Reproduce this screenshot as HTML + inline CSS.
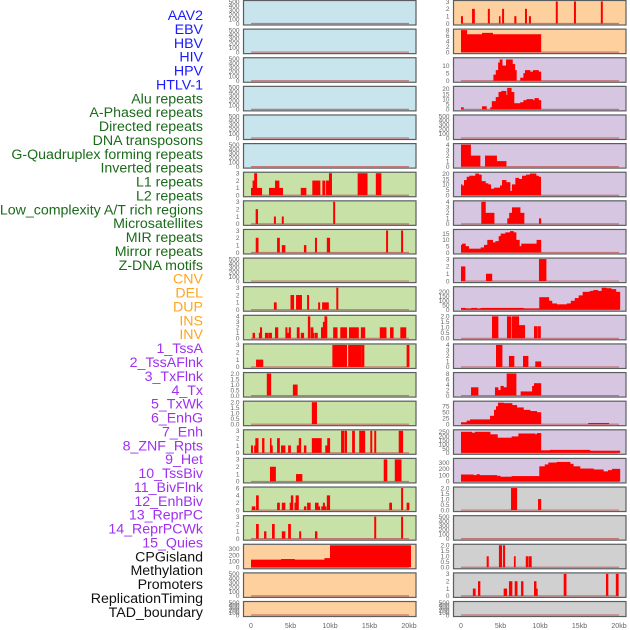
<!DOCTYPE html>
<html><head><meta charset="utf-8"><style>
html,body{margin:0;padding:0;background:#fff;}
svg{display:block;font-family:"Liberation Sans",sans-serif;}
</style></head><body>
<svg id="chart" width="630" height="630" viewBox="0 0 630 630"></svg>
<script>
// ---- labels ----
const labels = ["AAV2","EBV","HBV","HIV","HPV","HTLV-1","Alu repeats","A-Phased repeats","Directed repeats","DNA transposons","G-Quadruplex forming repeats","Inverted repeats","L1 repeats","L2 repeats","Low_complexity A/T rich regions","Microsatellites","MIR repeats","Mirror repeats","Z-DNA motifs","CNV","DEL","DUP","INS","INV","1_TssA","2_TssAFlnk","3_TxFlnk","4_Tx","5_TxWk","6_EnhG","7_Enh","8_ZNF_Rpts","9_Het","10_TssBiv","11_BivFlnk","12_EnhBiv","13_ReprPC","14_ReprPCWk","15_Quies","CPGisland","Methylation","Promoters","ReplicationTiming","TAD_boundary"];
const labelColors = ["#1a1aff","#1a1aff","#1a1aff","#1a1aff","#1a1aff","#1a1aff","#1a6b1a","#1a6b1a","#1a6b1a","#1a6b1a","#1a6b1a","#1a6b1a","#1a6b1a","#1a6b1a","#1a6b1a","#1a6b1a","#1a6b1a","#1a6b1a","#1a6b1a","#ffa520","#ffa520","#ffa520","#ffa520","#ffa520","#a030f0","#a030f0","#a030f0","#a030f0","#a030f0","#a030f0","#a030f0","#a030f0","#a030f0","#a030f0","#a030f0","#a030f0","#a030f0","#a030f0","#a030f0","#111","#111","#111","#111","#111"];
const xTicks = [0,5,10,15,20];
const xTickLabels = ["0","5kb","10kb","15kb","20kb"];
// ---- series: [startKb, endKb, value] ----
const segEmpty = [];
const segAlu = [[0,0.2,1],[0.2,0.4,2],[0.4,0.72,3],[0.72,1.35,1],[2.28,3.04,1],[3.04,3.54,2],[3.54,4.0,1],[6.3,6.96,1],[7.76,8.73,2],[9.03,9.36,2],[9.5,9.87,2],[9.87,10.2,3],[13.5,14.7,3],[15.8,16.45,3]];
const segAPhased = [[0.59,0.84,2],[2.9,3.1,1],[3.9,4.1,1],[10.4,10.6,3]];
const segDirected = [[0.6,0.9,2],[3.3,3.6,2],[3.9,4.3,1],[6.7,6.96,1],[8.1,8.3,2],[9.6,9.96,2],[17.1,17.3,3],[19.0,19.2,3]];
const segGQuad = [[2.9,3.2,1],[5.0,5.4,2],[5.7,6.4,2],[7.1,7.3,2],[8.5,8.7,1],[9.0,9.8,1],[10.8,11.0,3]];
const segInverted = [[0.2,0.46,1],[1.0,1.14,1],[1.14,1.35,2],[1.77,2.2,1],[2.28,2.6,1],[3.04,3.4,2],[4.35,4.56,2],[4.56,4.77,1],[4.77,5.0,2],[5.8,6.1,2],[6.3,6.67,1],[7.2,7.45,4],[7.55,7.85,2],[7.85,8.0,1],[8.1,8.4,1],[8.86,9.1,2],[9.1,9.3,3],[9.3,9.6,4],[10.4,10.9,2],[11.3,12.1,2],[12.4,13.0,2],[13.0,13.6,2],[13.9,14.4,2],[16.3,17.1,2],[17.6,18.0,2],[18.9,19.6,2]];
const segL1 = [[0.64,1.16,1],[1.2,1.5,1],[10.3,12.1,3],[12.3,13.9,3],[13.95,14.3,3],[19.7,20.0,3]];
const segL2 = [[2.0,2.5,2],[5.3,5.85,1]];
const segLowComplexity = [[7.7,8.3,2]];
const segMicro = [[0,0.2,1],[0.4,0.55,1],[0.55,0.9,2],[1.4,1.65,2],[2.4,2.55,2],[2.55,2.7,1],[3.3,3.6,2],[3.8,4.3,1],[4.7,5.0,1],[5.8,6.05,1],[6.05,6.3,2],[6.7,6.96,1],[7.7,8.9,2],[9.4,9.65,1],[9.65,9.96,2],[11.4,11.8,3],[11.9,12.1,3],[12.8,13.1,3],[13.7,14.4,3],[15.1,15.3,3],[15.6,15.8,3],[18.7,19.2,3]];
const segMIR = [[2.4,3.1,2],[5.7,6.45,1],[16.8,17.2,3],[18.2,19.0,3]];
const segMirror = [[0.1,0.5,1],[0.64,0.93,4],[3.3,3.6,2],[3.9,4.3,2],[4.9,5.05,2],[5.05,5.3,4],[5.5,5.65,2],[5.65,6.0,4],[6.7,6.96,1],[7.1,7.5,2],[8.1,8.5,2],[8.5,8.7,1],[8.9,9.1,1],[9.1,9.3,2],[9.3,9.5,1],[9.6,9.96,4],[17.5,17.8,2],[19.0,19.2,6],[19.7,20.0,2]];
const segZDNA = [[0.64,0.93,2],[1.65,1.9,1],[2.66,2.95,2],[3.9,4.3,1],[4.7,5.0,2],[6.1,6.3,1],[8.1,8.35,1],[15.6,15.8,3],[19.0,19.2,3]];
const segCNV = [[0,3.8,125],[3.8,5.5,135],[5.5,9.3,125],[9.3,10,150],[10,20.2,360]];
const segINS = [[0,0.2,1],[1.4,1.7,2],[3.4,3.6,2],[4.8,4.95,1],[5.2,5.4,2],[6.75,6.96,1],[8.1,8.3,2],[8.6,8.8,1],[12.0,12.2,3],[14.3,14.5,3],[17.7,17.9,3]];
const segINV = [[0,0.72,8],[0.72,2.66,6.5],[2.66,4.0,7],[4.0,10.1,6.5]];
const segTssA = [[4.1,4.4,4],[4.4,4.7,7],[4.7,4.9,12],[4.9,5.2,14],[5.2,5.7,10],[5.7,6.5,14],[6.5,6.8,11],[6.8,7.0,7],[7.5,7.9,2],[7.9,8.1,5],[8.1,8.73,7],[8.73,9.1,6],[9.1,9.8,7],[9.8,10.1,6]];
const segTssAFlnk = [[0,0.3,2],[2.66,3.2,3],[3.7,3.9,2],[3.9,4.4,8],[4.4,4.75,12],[4.75,5.1,17],[5.1,5.7,18],[5.7,5.85,14],[5.85,6.35,21],[6.35,6.7,17],[6.7,7.5,6],[7.5,7.9,7],[7.9,8.3,9],[8.3,9.1,10],[9.1,9.3,9],[9.3,9.8,11],[9.8,10.1,9]];
const segTx = [[0,1.2,4],[1.2,2.4,2],[3.04,4.5,2],[4.5,5.7,1]];
const segTxWk = [[0,0.13,10],[0.13,0.38,9],[0.38,0.72,14],[0.72,1.05,17],[1.05,1.81,18],[1.81,2.24,20],[2.24,2.57,19],[2.57,3.08,13],[3.08,3.42,11],[3.42,3.75,10],[3.75,4.18,6],[4.18,4.94,7],[4.94,5.19,9],[5.19,5.7,14],[5.7,6.2,12],[6.2,6.45,4],[6.45,6.88,10],[6.88,7.3,16],[7.3,7.72,15],[7.72,8.23,18],[8.23,8.73,19],[8.73,9.49,20],[9.49,9.83,18],[9.83,10.08,17]];
const segEnhG = [[2.57,3.08,4],[3.08,4.18,2],[5.86,6.1,1],[6.1,6.45,2],[6.45,7.47,3],[7.47,7.97,2],[9.87,10.1,1]];
const segEnh = [[0,0.13,6],[0.13,0.55,7],[0.55,0.97,5],[0.97,2.49,3],[2.49,2.91,4],[2.91,3.33,6],[3.33,4.0,10],[4.0,4.35,8],[4.35,4.77,9],[4.77,5.02,13],[5.02,5.61,15],[5.61,6.2,16],[6.2,6.62,17],[6.62,6.96,16],[6.96,7.38,10],[7.38,7.63,5],[7.63,9.57,7],[9.57,10.1,10]];
const segZNF = [[0,0.5,2],[3.16,3.9,1],[9.87,10.76,3]];
const segHet = [[0,0.55,20],[0.55,1.31,15],[1.31,1.98,20],[1.98,2.49,15],[2.49,7.89,20],[7.89,9.91,15],[9.91,11.1,140],[11.1,11.5,100],[11.5,12.1,70],[12.1,13.4,60],[13.4,13.9,70],[13.9,14.4,100],[14.4,14.9,130],[14.9,15.4,160],[15.4,16.3,200],[16.3,16.75,210],[16.75,17.3,220],[17.3,17.8,210],[17.8,18.4,245],[18.4,19.0,240],[19.0,19.6,230],[19.6,20.1,200]];
const segTssBiv = [[3.92,4.68,2],[5.82,6.33,2],[6.45,7.3,2],[7.3,8.06,1.2],[9.24,9.66,1.1],[9.75,10.05,1.1]];
const segBivFlnk = [[4.43,5.19,4],[6.07,6.7,2],[7.85,8.48,2],[9.4,10.1,1]];
const segEnhBiv = [[1.27,2.15,3],[4.3,4.68,3],[4.68,5.0,2],[5.0,5.36,3.5],[5.36,5.78,3],[5.78,6.96,8],[7.55,8.15,1.5],[8.15,9.0,1.5],[9.0,9.24,3.5],[9.24,10.1,4.5]];
const segReprPC = [[0,0.72,8],[0.72,1.14,15],[1.14,3.67,20],[3.67,4.18,35],[4.18,4.43,60],[4.43,4.68,75],[4.68,5.36,90],[5.36,6.45,88],[6.45,7.05,80],[7.05,7.89,70],[7.89,8.73,60],[8.73,9.57,55],[9.57,10.1,50],[16.1,18.7,5]];
const segReprPCWk = [[0,1.35,250],[1.35,1.77,240],[1.77,3.67,250],[3.67,4.6,220],[4.6,6.41,180],[6.41,7.26,195],[7.26,9.37,230],[9.37,9.6,220],[9.6,10.1,235],[10.1,11.26,30],[11.26,16.3,35],[16.3,20.1,25]];
const segQuies = [[0,1.56,110],[1.56,1.98,100],[1.98,2.32,115],[2.32,4.51,100],[4.51,4.94,90],[4.94,6.41,75],[6.41,9.91,85],[9.91,10.6,240],[10.6,11.05,270],[11.05,12.1,300],[12.1,13.8,310],[13.8,14.2,280],[14.2,15.05,240],[15.05,16.75,205],[16.75,18.0,190],[18.0,18.6,160],[18.6,19.1,180],[19.1,20.1,200]];
const segCPG = [[6.33,7.05,2],[9.75,10.1,1]];
const segPromoters = [[3.25,3.46,1],[4.8,5.15,2],[5.32,5.53,2],[6.7,6.87,1],[8.2,8.5,1],[8.6,8.9,1]];
const segRepTiming = [[1.5,1.8,1],[2.15,2.4,2],[5.4,5.78,1],[6.07,6.45,2],[6.8,7.1,2],[7.6,7.85,2],[9.24,9.5,2],[9.5,9.66,1],[13.0,13.3,3],[18.35,18.6,3],[19.6,19.9,3]];
// ---- tick sets ----
const t500 = [0,100,200,300,400,500];
const t3 = [0,1,2,3];
const t4 = [0,1,2,3,4];
const t2 = [0,0.5,1,1.5,2];
const t6 = [0,2,4,6];
const t8 = [0,2,4,6,8];
const t300 = [0,100,200,300];
const BLUE="#c8e4ec",GREEN="#c8e1a6",ORANGE="#fed09e",PURPLE="#d6c6e2",GRAY="#d0d0d0";
const panels = [
 ["aav2",BLUE,500,t500,segEmpty,0,0],["ebv",BLUE,500,t500,segEmpty,0,1],["hbv",BLUE,500,t500,segEmpty,0,2],
 ["hiv",BLUE,500,t500,segEmpty,0,3],["hpv",BLUE,500,t500,segEmpty,0,4],["htlv-1",BLUE,500,t500,segEmpty,0,5],
 ["alu-repeats",GREEN,3,t3,segAlu,0,6],["a-phased-repeats",GREEN,3,t3,segAPhased,0,7],["directed-repeats",GREEN,3,t3,segDirected,0,8],
 ["dna-transposons",GREEN,500,t500,segEmpty,0,9],["g-quadruplex",GREEN,3,t3,segGQuad,0,10],["inverted-repeats",GREEN,4,t4,segInverted,0,11],
 ["l1-repeats",GREEN,3,t3,segL1,0,12],["l2-repeats",GREEN,2,t2,segL2,0,13],["low-complexity",GREEN,2,t2,segLowComplexity,0,14],
 ["microsatellites",GREEN,3,t3,segMicro,0,15],["mir-repeats",GREEN,3,t3,segMIR,0,16],["mirror-repeats",GREEN,6,t6,segMirror,0,17],
 ["z-dna-motifs",GREEN,3,t3,segZDNA,0,18],["cnv",ORANGE,360,t300,segCNV,0,19],["del",ORANGE,500,t500,segEmpty,0,20],["dup",ORANGE,500,t500,segEmpty,0,21],
 ["ins",ORANGE,3,t3,segINS,1,0],["inv",ORANGE,8,t8,segINV,1,1],["tssa",PURPLE,14.5,[0,5,10],segTssA,1,2],
 ["tssaflnk",PURPLE,21.5,[0,5,10,15,20],segTssAFlnk,1,3],["txflnk",PURPLE,500,t500,segEmpty,1,4],["tx",PURPLE,4,t4,segTx,1,5],
 ["txwk",PURPLE,20.3,[0,5,10,15,20],segTxWk,1,6],["enhg",PURPLE,4,t4,segEnhG,1,7],["enh",PURPLE,17.5,[0,5,10,15],segEnh,1,8],
 ["znf-rpts",PURPLE,3,t3,segZNF,1,9],["het",PURPLE,246,[0,50,100,150,200],segHet,1,10],["tssbiv",PURPLE,2,t2,segTssBiv,1,11],
 ["bivflnk",PURPLE,4,t4,segBivFlnk,1,12],["enhbiv",PURPLE,8,t8,segEnhBiv,1,13],["reprpc",PURPLE,92,[0,25,50,75],segReprPC,1,14],
 ["reprpcwk",PURPLE,262,[0,50,100,150,200,250],segReprPCWk,1,15],["quies",PURPLE,350,t300,segQuies,1,16],["cpgisland",GRAY,2,t2,segCPG,1,17],
 ["methylation",GRAY,500,t500,segEmpty,1,18],["promoters",GRAY,2,t2,segPromoters,1,19],["replication-timing",GRAY,3,t3,segRepTiming,1,20],["tad-boundary",GRAY,500,t500,segEmpty,1,21]
];
const NS="http://www.w3.org/2000/svg";
const svg=document.getElementById('chart');
function mk(tag,attrs,parent){const e=document.createElementNS(NS,tag);for(const k in attrs)e.setAttribute(k,attrs[k]);(parent||svg).appendChild(e);return e;}
labels.forEach((t,i)=>{
  const e=mk('text',{x:203,y:15+i*13.88+5,'text-anchor':'end','font-size':'14.2',fill:labelColors[i]});
  
  
  e.textContent=t;
});
const colX=[243.5,453.5], colW=172.5, zeroX=[251,461], kbW=7.9;
function xPos(col,kb){return zeroX[col]+kb*kbW;}
function fmt(v,ticks){const dec=ticks.some(t=>t%1!==0);return dec?v.toFixed(1):String(v);}
panels.forEach(p=>{
  const [name,bg,ymax,ticks,series,col,row]=p;
  const top=0.5+row*28.62, h=(row===21?15:24.5);
  const bot=top+h-1.5, ytop=top+1;
  const yPos=v=>bot-(Math.min(v,ymax)/ymax)*(bot-ytop);
  const g=mk('g',{});
  
  
  const bgR=mk('rect',{x:colX[col],y:top,width:colW,height:h,fill:bg,stroke:'#5a5e60','stroke-width':1.2},g);
  
  
  const base=mk('line',{x1:xPos(col,0),x2:xPos(col,20),y1:bot,y2:bot,stroke:'#c06060','stroke-width':1.2,opacity:0.8},g);
  
  
  series.forEach(s=>{
    const r=mk('rect',{x:xPos(col,s[0]),y:yPos(s[2]),width:Math.max(0.8,(s[1]-s[0])*kbW+0.4),height:bot-yPos(s[2]),fill:'#ff0000'},g);
    
    
  });
  ticks.forEach(t=>{
    const e=mk('text',{x:colX[col]-4,y:yPos(t)+2.3,'text-anchor':'end','font-size':'6.5',fill:'#666'},g);
    
    
    e.textContent=fmt(t,ticks);
  });
});
[0,1].forEach(col=>{
  xTicks.forEach((v,i)=>{
    const e=mk('text',{x:xPos(col,v),y:628,'text-anchor':'middle','font-size':'7',fill:'#666'});
    
    
    e.textContent=xTickLabels[i];
  });
});
</script>
</body></html>
